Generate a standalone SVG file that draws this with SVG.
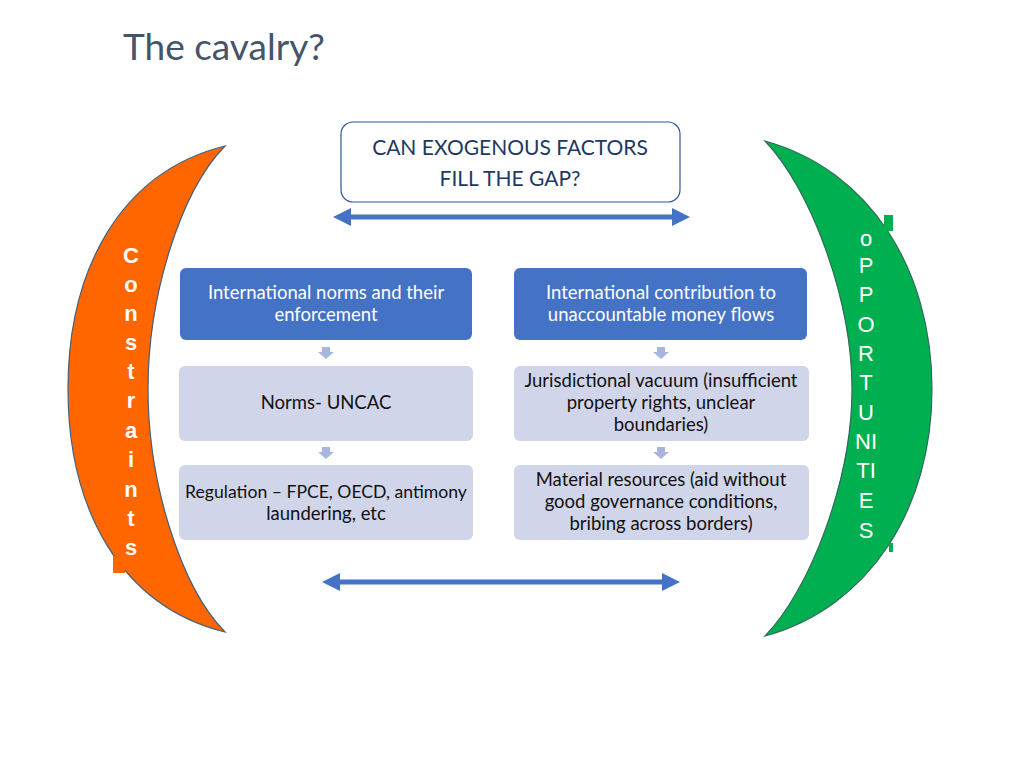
<svg xmlns="http://www.w3.org/2000/svg" width="1024" height="768" viewBox="0 0 1024 768">
<defs>
<style>
.title{font-family:Lato,"Liberation Sans",sans-serif;font-size:37px;fill:#44546A}
.q{font-family:Lato,"Liberation Sans",sans-serif;font-size:21px;fill:#1F3864;text-anchor:middle}
.bt{font-family:Lato,"Liberation Sans",sans-serif;font-size:18.5px;fill:#FFFFFF;text-anchor:middle}
.lt{font-family:Lato,"Liberation Sans",sans-serif;font-size:18.5px;fill:#111111;text-anchor:middle}
.dark{fill:#4472C4}
.light{fill:#D0D5E9}
.cv{font-family:"Liberation Sans",Arial,sans-serif;font-size:22px;font-weight:bold;fill:#FFFFFF;text-anchor:middle}
.op{font-family:"Liberation Sans",Arial,sans-serif;font-size:22px;fill:#FFFFFF;text-anchor:middle}
.dn{fill:#A8B6DE}
.dbl{fill:#4472C4}
</style>
</defs>
<rect width="1024" height="768" fill="#FFFFFF"/>
<text class="title" x="123" y="60">The cavalry?</text>

<g id="constraints">
<path d="M225,146 C120,172 68,270 68,389 C68,508 120,606 225,632 C180,586 148,481 148,389 C148,297 180,192 225,146 Z" fill="#FF6600" stroke="#44607A" stroke-width="1.2"/>
<rect x="113" y="556" width="12" height="17" fill="#FF6600"/>
<text class="cv" x="131" y="263">C</text>
<text class="cv" x="131" y="292">o</text>
<text class="cv" x="131" y="321">n</text>
<text class="cv" x="131" y="350">s</text>
<text class="cv" x="131" y="379">t</text>
<text class="cv" x="131" y="408">r</text>
<text class="cv" x="131" y="438">a</text>
<text class="cv" x="131" y="467">i</text>
<text class="cv" x="131" y="497">n</text>
<text class="cv" x="131" y="526">t</text>
<text class="cv" x="131" y="555">s</text>
</g>

<g id="opportunities">
<path d="M765,141 C870,170 932,270 932,389 C932,508 870,607 765,636 C810,590 852,480 852,389 C852,298 810,188 765,141 Z" fill="#00B050" stroke="#2F6B5A" stroke-width="1.2"/>
<rect x="884" y="215" width="9" height="16" fill="#00B050"/>
<rect x="889" y="543" width="4" height="9" fill="#00B050"/>
<text class="op" x="866" y="246">o</text>
<text class="op" x="866" y="273">P</text>
<text class="op" x="866" y="302">P</text>
<text class="op" x="866" y="332">O</text>
<text class="op" x="866" y="361">R</text>
<text class="op" x="866" y="390">T</text>
<text class="op" x="866" y="420">U</text>
<text class="op" x="866" y="449">NI</text>
<text class="op" x="866" y="478">TI</text>
<text class="op" x="866" y="508">E</text>
<text class="op" x="866" y="538">S</text>
</g>

<g id="question">
<rect x="341" y="122" width="339" height="80" rx="12" fill="#FFFFFF" stroke="#2F5597" stroke-width="1.2"/>
<text class="q" x="510" y="155">CAN EXOGENOUS FACTORS</text>
<text class="q" x="510" y="186">FILL THE GAP?</text>
</g>

<g id="left1">
<rect class="dark" x="180" y="268" width="292" height="72" rx="6"/>
<text class="bt" x="326" y="299">International norms and their</text>
<text class="bt" x="326" y="321">enforcement</text>
</g>
<g id="left2">
<rect class="light" x="179" y="366" width="294" height="75" rx="6"/>
<text class="lt" x="326" y="409">Norms- UNCAC</text>
</g>
<g id="left3">
<rect class="light" x="179" y="465" width="294" height="75" rx="6"/>
<text class="lt" x="326" y="498" style="font-size:17.6px">Regulation – FPCE, OECD, antimony</text>
<text class="lt" x="326" y="520">laundering, etc</text>
</g>

<g id="right1">
<rect class="dark" x="514" y="268" width="293" height="72" rx="6"/>
<text class="bt" x="661" y="299">International contribution to</text>
<text class="bt" x="661" y="321">unaccountable money flows</text>
</g>
<g id="right2">
<rect class="light" x="514" y="366" width="295" height="75" rx="6"/>
<text class="lt" x="661" y="387">Jurisdictional vacuum (insufficient</text>
<text class="lt" x="661" y="409">property rights, unclear</text>
<text class="lt" x="661" y="431">boundaries)</text>
</g>
<g id="right3">
<rect class="light" x="514" y="465" width="295" height="75" rx="6"/>
<text class="lt" x="661" y="486">Material resources (aid without</text>
<text class="lt" x="661" y="508">good governance conditions,</text>
<text class="lt" x="661" y="530">bribing across borders)</text>
</g>

<g id="connectors">
<path class="dn" d="M322,347 h8 v5 h4 l-8,7 l-8,-7 h4 z"/>
<path class="dn" d="M322,447 h8 v5 h4 l-8,7 l-8,-7 h4 z"/>
<path class="dn" d="M657,347 h8 v5 h4 l-8,7 l-8,-7 h4 z"/>
<path class="dn" d="M657,447 h8 v5 h4 l-8,7 l-8,-7 h4 z"/>
<path class="dbl" d="M333,217 L351,208 L351,214.5 L672,214.5 L672,208 L690,217 L672,226 L672,219.5 L351,219.5 L351,226 Z"/>
<path class="dbl" d="M322,582 L340,573 L340,579.5 L662,579.5 L662,573 L680,582 L662,591 L662,584.5 L340,584.5 L340,591 Z"/>
</g>
</svg>
